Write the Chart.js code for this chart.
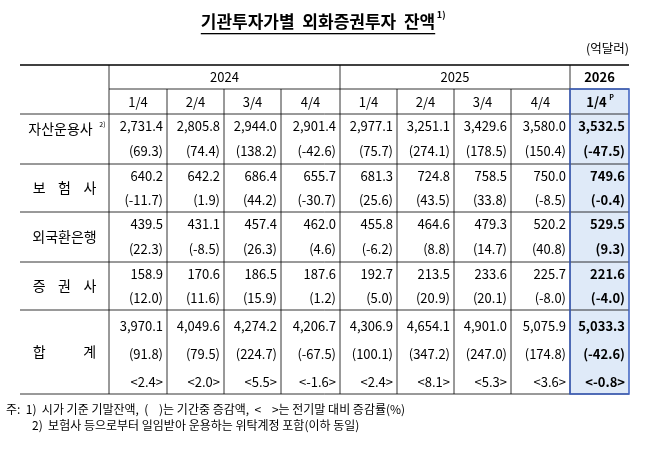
<!DOCTYPE html>
<html><head><meta charset="utf-8">
<script src="https://cdn.jsdelivr.net/npm/chart.js@4.4.0/dist/chart.umd.min.js"></script>
<style>html,body{margin:0;background:#fff}#wrap{width:655px;height:455px}</style>
</head><body><div id="wrap"><canvas id="c"></canvas></div>
<script>
var years = ['2024', '2025', '2026'];
var quarters = ['1/4', '2/4', '3/4', '4/4', '1/4', '2/4', '3/4', '4/4', '1/4'];
var institutions = ['자산운용사', '보    험    사', '외국환은행', '증    권    사', '합            계'];
var assetMgmt = [2731.4, 2805.8, 2944.0, 2901.4, 2977.1, 3251.1, 3429.6, 3580.0, 3532.5];
var assetMgmtChg = [69.3, 74.4, 138.2, -42.6, 75.7, 274.1, 178.5, 150.4, -47.5];
var insurance = [640.2, 642.2, 686.4, 655.7, 681.3, 724.8, 758.5, 750.0, 749.6];
var insuranceChg = [-11.7, 1.9, 44.2, -30.7, 25.6, 43.5, 33.8, -8.5, -0.4];
var banks = [439.5, 431.1, 457.4, 462.0, 455.8, 464.6, 479.3, 520.2, 529.5];
var banksChg = [22.3, -8.5, 26.3, 4.6, -6.2, 8.8, 14.7, 40.8, 9.3];
var securities = [158.9, 170.6, 186.5, 187.6, 192.7, 213.5, 233.6, 225.7, 221.6];
var securitiesChg = [12.0, 11.6, 15.9, 1.2, 5.0, 20.9, 20.1, -8.0, -4.0];
var total = [3970.1, 4049.6, 4274.2, 4206.7, 4306.9, 4654.1, 4901.0, 5075.9, 5033.3];
var totalChg = [91.8, 79.5, 224.7, -67.5, 100.1, 347.2, 247.0, 174.8, -42.6];
var totalRate = [2.4, 2.0, 5.5, -1.6, 2.4, 8.1, 5.3, 3.6, -0.8];

var groups = [[assetMgmt, assetMgmtChg], [insurance, insuranceChg], [banks, banksChg],
  [securities, securitiesChg], [total, totalChg, totalRate]];

// layout
var colEdges = [20, 109, 167, 224, 281, 340, 397, 454, 511, 570, 629];
var rowTop = 65, yearBottom = 89, quarterBottom = 114;
var groupEdges = [114, 164, 212, 262, 310, 394];

function fmt(v) { return v.toLocaleString('en-US', {minimumFractionDigits: 1, maximumFractionDigits: 1}); }

var tablePlugin = {
  id: 'table',
  afterDraw: function (chart) {
    var ctx = chart.ctx;
    ctx.save();
    var font = '"Noto Sans CJK KR", sans-serif';
    ctx.fillStyle = '#dfeaf8';
    ctx.fillRect(colEdges[9], yearBottom, colEdges[10] - colEdges[9], groupEdges[5] - yearBottom);
    ctx.fillStyle = '#000';
    ctx.textBaseline = 'middle';
    ctx.textAlign = 'center';
    ctx.font = 'bold 17px ' + font;
    var title = '기관투자가별  외화증권투자  잔액';
    ctx.fillText(title, 318, 22);
    var tw = ctx.measureText(title).width;
    ctx.fillRect(318 - tw / 2, 33, tw, 1.3);
    ctx.font = 'bold 9px ' + font;
    ctx.fillText('1)', 318 + tw / 2 + 6, 15);
    ctx.font = '12.5px ' + font;
    ctx.textAlign = 'right';
    ctx.fillText('(억달러)', 629, 48);

    // lines
    ctx.strokeStyle = '#000';
    ctx.lineWidth = 1.6;
    ctx.beginPath(); ctx.moveTo(20, rowTop); ctx.lineTo(629, rowTop); ctx.stroke();
    ctx.lineWidth = 0.8;
    ctx.beginPath();
    ctx.moveTo(20, groupEdges[5]); ctx.lineTo(629, groupEdges[5]);
    ctx.moveTo(colEdges[1], yearBottom); ctx.lineTo(629, yearBottom);
    groupEdges.slice(0, 5).forEach(function (y) { ctx.moveTo(20, y); ctx.lineTo(629, y); });
    [1, 5, 9].forEach(function (i) { ctx.moveTo(colEdges[i], rowTop); ctx.lineTo(colEdges[i], groupEdges[5]); });
    [2, 3, 4, 6, 7, 8].forEach(function (i) { ctx.moveTo(colEdges[i], yearBottom); ctx.lineTo(colEdges[i], groupEdges[5]); });
    ctx.stroke();
    ctx.strokeStyle = '#3b5fc0';
    ctx.lineWidth = 1.5;
    ctx.strokeRect(colEdges[9], yearBottom, colEdges[10] - colEdges[9], groupEdges[5] - yearBottom);

    // headers
    ctx.textAlign = 'center';
    ctx.font = '13px ' + font;
    ctx.fillText(years[0], (colEdges[1] + colEdges[5]) / 2, 77);
    ctx.fillText(years[1], (colEdges[5] + colEdges[9]) / 2, 77);
    ctx.font = 'bold 13px ' + font;
    ctx.fillText(years[2], (colEdges[9] + colEdges[10]) / 2, 77);
    quarters.forEach(function (q, i) {
      var cx = (colEdges[i + 1] + colEdges[i + 2]) / 2;
      ctx.font = (i === 8 ? 'bold ' : '') + '13px ' + font;
      ctx.fillText(q, cx - (i === 8 ? 3 : 0), 102);
      if (i === 8) { ctx.font = 'bold 7px ' + font; ctx.fillText('P', cx + 12, 97); }
    });

    // body
    groups.forEach(function (g, gi) {
      var top = groupEdges[gi], bot = groupEdges[gi + 1];
      var n = g.length, h = (bot - top) / n;
      ctx.textAlign = 'center';
      ctx.font = '14px ' + font;
      var lx = (colEdges[0] + colEdges[1]) / 2;
      ctx.fillText(institutions[gi], lx - (gi === 0 ? 4 : 0), (top + bot) / 2 - (gi === 0 ? 10 : 0));
      if (gi === 0) { ctx.font = '7px ' + font; ctx.fillText('2)', lx + 38, (top + bot) / 2 - 15); }
      g.forEach(function (arr, r) {
        var y = top + h * (r + 0.5) + (gi === 4 ? 2 : 0);
        arr.forEach(function (v, i) {
          var right = colEdges[i + 2] - 4;
          ctx.font = (i === 8 ? 'bold ' : '') + '13px ' + font;
          ctx.textAlign = 'right';
          var s = r === 0 ? fmt(v) : r === 1 ? '(' + fmt(v) + ')' : '<' + fmt(v) + '>';
          ctx.fillText(s, right, y);
        });
      });
    });

    // notes
    ctx.textAlign = 'left';
    ctx.font = '12px ' + font;
    ctx.fillText('주:  1)  시가 기준 기말잔액,  (    )는 기간중 증감액,  <    >는 전기말 대비 증감률(%)', 6, 409);
    ctx.fillText('2)  보험사 등으로부터 일임받아 운용하는 위탁계정 포함(이하 동일)', 32, 425);
    ctx.restore();
  }
};

new Chart(document.getElementById('c'), {
  type: 'bar',
  data: { labels: quarters, datasets: [{ data: [], label: '' }] },
  options: {
    responsive: true, maintainAspectRatio: false, animation: false,
    plugins: { legend: { display: false }, tooltip: { enabled: false } },
    scales: { x: { display: false }, y: { display: false } }
  },
  plugins: [tablePlugin]
});
</script></body></html>
